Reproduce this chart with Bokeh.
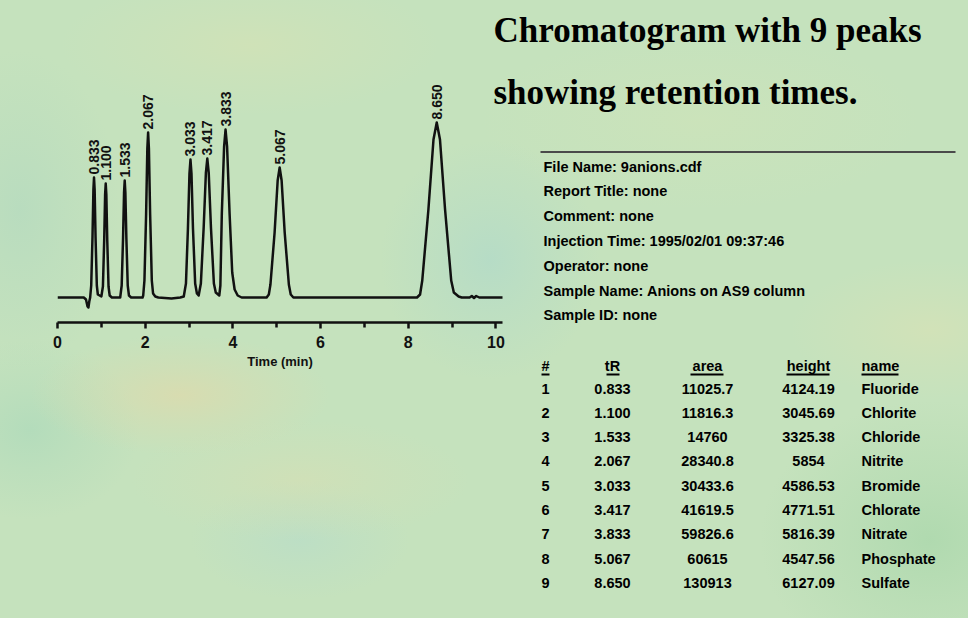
import math
from bokeh.plotting import figure
from bokeh.models import Range1d, FixedTicker, Label, BoxAnnotation
from bokeh.core.properties import value
from bokeh.embed import file_html
from bokeh.resources import INLINE

# ---------------- data ----------------
title_lines = ["Chromatogram with 9 peaks", "showing retention times."]

info_lines = [
    "File Name: 9anions.cdf",
    "Report Title: none",
    "Comment: none",
    "Injection Time: 1995/02/01 09:37:46",
    "Operator: none",
    "Sample Name: Anions on AS9 column",
    "Sample ID: none",
]

table_headers = ["#", "tR", "area", "height", "name"]
peak_no = [1, 2, 3, 4, 5, 6, 7, 8, 9]
peak_tr = [0.833, 1.100, 1.533, 2.067, 3.033, 3.417, 3.833, 5.067, 8.650]
peak_area = [11025.7, 11816.3, 14760, 28340.8, 30433.6, 41619.5, 59826.6, 60615, 130913]
peak_height = [4124.19, 3045.69, 3325.38, 5854, 4586.53, 4771.51, 5816.39, 4547.56, 6127.09]
peak_name = ["Fluoride", "Chlorite", "Chloride", "Nitrite", "Bromide",
             "Chlorate", "Nitrate", "Phosphate", "Sulfate"]

# apex of each peak in the drawn trace (detector response, relative units)
peak_apex = [120, 114, 117, 165, 138, 139, 168, 130, 175]

# traced detector signal (time in min, response in relative units)
time_min = [
    0.00, 0.60, 0.65, 0.685, 0.705, 0.725,
    0.745, 0.769, 0.798, 0.819, 0.833, 0.847, 0.868, 0.897, 0.920, 0.960,
    1.000, 1.036, 1.065, 1.086, 1.100, 1.114, 1.135, 1.164, 1.190, 1.240,
    1.430, 1.464, 1.495, 1.518, 1.533, 1.548, 1.571, 1.602, 1.630, 1.680,
    1.940, 1.955, 1.983, 2.021, 2.049, 2.067, 2.085, 2.113, 2.151, 2.180, 2.230, 2.300,
    2.600, 2.800,
    2.880, 2.930, 2.975, 3.010, 3.033, 3.056, 3.090, 3.140, 3.180, 3.220,
    3.270, 3.334, 3.385, 3.417, 3.449, 3.500, 3.567, 3.610, 3.690,
    3.715, 3.748, 3.800, 3.833, 3.868, 3.925, 3.985, 4.040, 4.110, 4.200,
    4.770, 4.820, 4.857, 4.952, 5.022, 5.067, 5.112, 5.182, 5.277, 5.320, 5.380,
    7.000, 8.200,
    8.270, 8.320, 8.460, 8.576, 8.650, 8.724, 8.840, 8.980, 9.040, 9.150, 9.220,
    9.400, 9.450, 9.500, 9.550, 9.620, 10.170,
]
signal = [
    0, 0, -2, -9, -10, -4,
    0, 12, 60, 108, 120, 108, 60, 12, 3, 2,
    1, 11, 57, 103, 114, 103, 57, 11, 2, 0,
    0, 12, 59, 105, 117, 105, 59, 12, 2, 0,
    0, 2, 17, 83, 149, 165, 149, 83, 17, 4, 1, 0,
    -1, 0,
    1, 14, 69, 124, 138, 124, 69, 14, 4, 2,
    14, 70, 125, 139, 125, 70, 14, 5, 2,
    12, 84, 151, 168, 151, 84, 25, 8, 2, 0,
    0, 3, 13, 65, 117, 130, 117, 65, 13, 3, 0,
    0, 0,
    3, 17, 88, 158, 175, 158, 88, 17, 5, 1, 0,
    0, 1.5, -0.5, 1.5, 0, 0,
]

x_major_ticks = [0, 2, 4, 6, 8, 10]
x_minor_ticks = [1, 3, 5, 7, 9]

# ---------------- layout ----------------
W, H = 968, 618
SANS = "Liberation Sans"
SERIF = "Liberation Serif"

def blob(cx, cy, rx, ry, rgb, a):
    return (f"radial-gradient(ellipse {rx}px {ry}px at {cx}px {cy}px, "
            f"rgba({rgb},{a}), rgba({rgb},{a * 0.5:.2f}) 45%, rgba({rgb},0) 100%)")

bg = ",".join([
    blob(180, 395, 150, 60, "222,218,172", 0.75),
    blob(300, 480, 170, 60, "218,222,178", 0.5),
    blob(250, 45, 190, 70, "214,226,180", 0.6),
    blob(30, 430, 110, 90, "168,216,186", 0.6),
    blob(300, 540, 110, 60, "178,218,206", 0.45),
    blob(490, 260, 110, 120, "172,216,204", 0.6),
    blob(20, 210, 100, 160, "172,214,192", 0.5),
    blob(930, 540, 170, 140, "162,212,166", 0.6),
    blob(930, 330, 140, 70, "220,226,180", 0.55),
    blob(700, 120, 220, 90, "208,228,184", 0.55),
    "#c5e2bd",
])

# ---- text page (frame covers the whole figure, units = pixels) ----
t = figure(width=W, height=H, output_backend="svg", toolbar_location=None,
           x_range=Range1d(0, W), y_range=Range1d(H, 0),
           x_axis_location=None, y_axis_location=None,
           min_border=0, background_fill_color=None, border_fill_color=None,
           outline_line_color=None, styles={"background": bg})
t.grid.visible = False

for txt, yb in zip(title_lines, [30, 92]):
    t.add_layout(Label(x=493, y=yb, text=txt, text_font=SERIF, text_font_style="bold",
                       text_font_size="35px", text_color="#000000",
                       text_baseline="alphabetic", text_align="left"))

t.add_layout(BoxAnnotation(left=540, right=955, top=150.5, bottom=152.5,
                           fill_color="#4a4a4a", fill_alpha=1.0, line_color=None))

info_y = [166, 190.5, 215.5, 240, 265, 290, 314]
for txt, yc in zip(info_lines, info_y):
    t.add_layout(Label(x=543, y=yc, text=txt, text_font=SANS, text_font_style="bold",
                       text_font_size="14.5px", text_color="#000000",
                       text_baseline="middle", text_align="left"))

col_x = [541, 612, 707, 808, 861]
col_align = ["left", "center", "center", "center", "left"]
header_y = 365
ul = [(541, 549), (606, 619), (690, 723), (786, 829), (861, 898)]
for h, cx, al, (u0, u1) in zip(table_headers, col_x, col_align, ul):
    t.add_layout(Label(x=cx, y=header_y, text=h, text_font=SANS, text_font_style="bold",
                       text_font_size="14.5px", text_color="#000000",
                       text_baseline="middle", text_align=al))
    t.add_layout(BoxAnnotation(left=u0, right=u1, top=373, bottom=375,
                               fill_color="#000000", fill_alpha=1.0, line_color=None))

for i in range(len(peak_no)):
    yc = 388 + 24.3 * i
    cells = [str(peak_no[i]), f"{peak_tr[i]:.3f}", f"{peak_area[i]:g}",
             f"{peak_height[i]:g}", peak_name[i]]
    for txt, cx, al in zip(cells, col_x, col_align):
        t.add_layout(Label(x=cx, y=yc, text=txt, text_font=SANS, text_font_style="bold",
                           text_font_size="14.5px", text_color="#000000",
                           text_baseline="middle", text_align=al))

# ---- chromatogram (overlaid, transparent) ----
FL, FR, FT, FB = 57, 466, 75, 296
p = figure(width=W, height=H, output_backend="svg", toolbar_location=None,
           x_range=Range1d(0, 10.15), y_range=Range1d(-25, H - FT - FB - 25),
           y_axis_location=None,
           min_border_left=FL, min_border_right=FR, min_border_top=FT, min_border_bottom=FB,
           background_fill_color=None, border_fill_color=None, outline_line_color=None,
           styles={"position": "absolute", "left": "0px", "top": "0px"})
p.grid.visible = False

ax = p.xaxis[0]
ax.ticker = FixedTicker(ticks=x_major_ticks, minor_ticks=x_minor_ticks)
ax.axis_line_width = 2.5
ax.axis_line_color = "#111111"
ax.major_tick_line_width = 2.5
ax.minor_tick_line_width = 2.5
ax.major_tick_line_color = "#111111"
ax.minor_tick_line_color = "#111111"
ax.major_tick_in = 0
ax.major_tick_out = 6
ax.minor_tick_in = 0
ax.minor_tick_out = 5
ax.major_label_text_font = SANS
ax.major_label_text_font_style = "bold"
ax.major_label_text_font_size = "16px"
ax.major_label_text_color = "#111111"
ax.major_label_standoff = 7
ax.axis_label = "Time (min)"
ax.axis_label_text_font = SANS
ax.axis_label_text_font_style = "bold"
ax.axis_label_text_font_size = "13px"
ax.axis_label_text_color = "#111111"
ax.axis_label_standoff = 3

p.line(time_min, signal, line_width=2.5, line_color="#111111", line_join="round")

p.text(x=peak_tr, y=peak_apex, text=[f"{v:.3f}" for v in peak_tr], angle=math.pi / 2,
       text_align="left", text_baseline="middle", y_offset=-3,
       text_font=value(SANS), text_font_style="bold", text_font_size="14px",
       text_color="#111111")

open("out.html", "w").write(file_html([t, p], INLINE))
